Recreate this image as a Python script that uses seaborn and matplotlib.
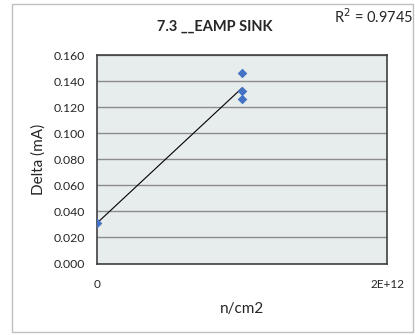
import matplotlib
matplotlib.use("Agg")
import matplotlib.pyplot as plt
import seaborn as sns
import pandas as pd
from matplotlib.patches import Rectangle

# data
fluence = [0, 1e12, 1e12, 1e12]
delta_ma = [0.031, 0.146, 0.132, 0.126]
title = "7.3 __EAMP SINK"
r2_text = "R$^2$ = 0.9745"
y_ticks = [0.000, 0.020, 0.040, 0.060, 0.080, 0.100, 0.120, 0.140, 0.160]
x_ticks = [0, 2e12]
x_tick_labels = ["0", "2E+12"]

df = pd.DataFrame({"n/cm2": fluence, "Delta (mA)": delta_ma})

sns.set_theme(style="white")
plt.rcParams["font.family"] = ["Lato", "DejaVu Sans"]

fig = plt.figure(figsize=(4.15, 3.35), dpi=100)
ax = fig.add_axes([97 / 415, 1 - 263.5 / 335, 290 / 415, 208.5 / 335])

# outer chart border
fig.patches.append(Rectangle((12 / 415, 3 / 335), 401 / 415, 328 / 335,
                             transform=fig.transFigure, fill=False,
                             edgecolor="#bfbfbf", linewidth=1.0))

ax.set_facecolor("#e7ecec")
sns.regplot(data=df, x="n/cm2", y="Delta (mA)", ax=ax, ci=None, marker="D",
            scatter_kws={"color": "#4472c4", "s": 24, "linewidths": 0,
                         "alpha": 1, "zorder": 3},
            line_kws={"color": "black", "linewidth": 0.8, "zorder": 2})

ax.set_xlim(0, 2e12)
ax.set_ylim(0, 0.160)
ax.set_yticks(y_ticks)
ax.set_yticklabels([f"{v:.3f}" for v in y_ticks], fontsize=8.8)
ax.set_xticks(x_ticks)
ax.set_xticklabels(x_tick_labels, fontsize=8.5)
ax.grid(axis="y", color="#8c8c8c", linewidth=1.0)
ax.set_axisbelow(True)
for s in ax.spines.values():
    s.set_color("#404040")
    s.set_linewidth(1.2)
ax.tick_params(axis="both", length=3, width=0.8, color="#808080", pad=6)
ax.tick_params(axis="x", pad=8)

ax.set_xlabel("n/cm2", fontsize=11, labelpad=9)
ax.set_ylabel("Delta (mA)", fontsize=11, labelpad=5)

fig.text(215 / 415, 1 - 27 / 335, title, ha="center", va="center",
         fontsize=10.5, fontweight="bold")
fig.text(413 / 415, 1 - 17 / 335, r2_text, ha="right", va="center", fontsize=10.5)

fig.savefig("out.png", dpi=100)
